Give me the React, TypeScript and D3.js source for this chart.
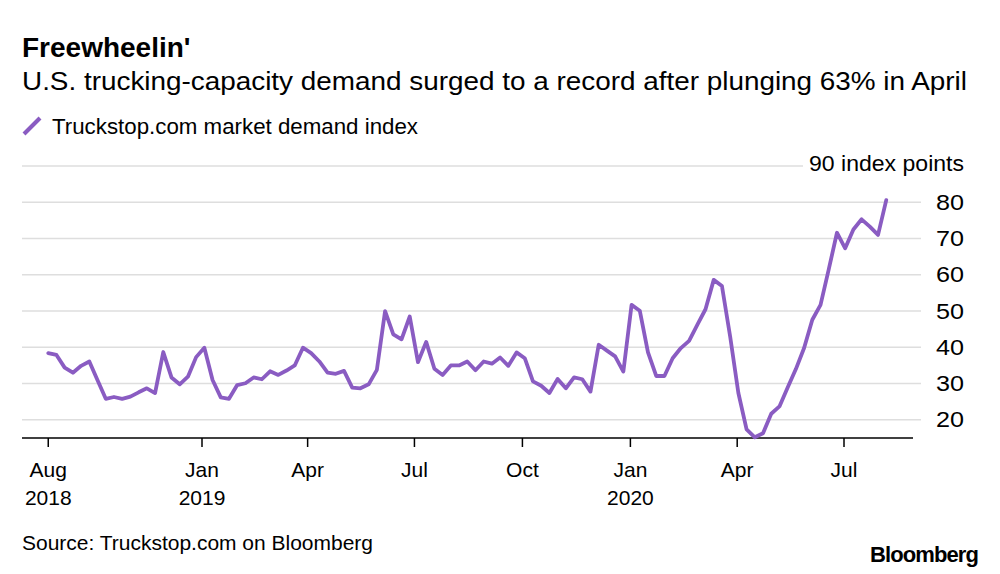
import React from "react";
import * as d3 from "d3";

// ---- data (weekly, Truckstop.com market demand index) ----
const startDate = "2018-08-23";
const demandValues: number[] = [
  38.4, 37.9, 34.4, 33.0, 34.9, 36.1, 30.9, 25.8, 26.3, 25.8,
  26.4, 27.6, 28.7, 27.4, 38.7, 31.7, 29.8, 31.9, 37.3, 39.9,
  31.0, 26.2, 25.8, 29.6, 30.1, 31.7, 31.2, 33.4, 32.4, 33.6,
  35.0, 39.9, 38.4, 36.1, 33.0, 32.7, 33.5, 28.9, 28.7, 29.8,
  33.8, 50.0, 43.6, 42.2, 48.5, 35.9, 41.5, 34.1, 32.4, 35.0,
  35.0, 36.1, 33.7, 36.1, 35.5, 37.2, 34.9, 38.6, 37.0, 30.6,
  29.4, 27.4, 31.3, 28.7, 31.7, 31.2, 27.8, 40.7, 39.1, 37.5,
  33.3, 51.7, 50.1, 38.6, 32.1, 32.1, 37.0, 39.8, 41.8, 46.2,
  50.5, 58.6, 56.9, 43.0, 27.4, 17.4, 15.2, 16.3, 21.7, 23.7,
  28.9, 34.0, 39.8, 47.6, 51.7, 61.5, 71.6, 67.3, 72.5, 75.3,
  73.3, 71.0, 80.6,
];
const yTicks = [20, 30, 40, 50, 60, 70, 80];
const xTickDates = ["2018-08-23", "2019-01-01", "2019-04-01", "2019-07-01", "2019-10-01", "2020-01-01", "2020-04-01", "2020-07-01"];
const xTickMonths = ["Aug", "Jan", "Apr", "Jul", "Oct", "Jan", "Apr", "Jul"];
const xTickYears = ["2018", "2019", "", "", "", "2020", "", ""];

const title = "Freewheelin'";
const subtitle = "U.S. trucking-capacity demand surged to a record after plunging 63% in April";
const legendLabel = "Truckstop.com market demand index";
const unitLabel = "90 index points";
const sourceText = "Source: Truckstop.com on Bloomberg";

const FONT = "'Liberation Sans', Arial, Helvetica, sans-serif";
const PURPLE = "#8a5cc2";
const GRID = "#dedede";

const parse = d3.timeParse("%Y-%m-%d");

export default function App() {
  const start = parse(startDate)!;
  const data = demandValues.map((v, i) => ({ date: d3.timeDay.offset(start, i * 7), value: v }));

  const x = d3
    .scaleTime()
    .domain([parse("2019-01-01")!, parse("2020-07-01")!])
    .range([202, 844]);
  const y = d3.scaleLinear().domain([15, 90]).range([438, 166]);

  const line = d3
    .line<{ date: Date; value: number }>()
    .x((d) => x(d.date))
    .y((d) => y(d.value));

  const gridLeft = 22;
  const gridRight = 921;
  const axisRight = 913;

  return (
    <svg
      width={1000}
      height={574}
      style={{ position: "absolute", left: 0, top: 0, background: "#fff" }}
      fontFamily={FONT}
    >
      <rect x={0} y={0} width={1000} height={574} fill="#fff" />
      <text x={22} y={57} fontSize={28} fontWeight="bold" fill="#000">
        {title}
      </text>
      <text x={22} y={90} fontSize={26.5} fill="#000" textLength={945} lengthAdjust="spacingAndGlyphs">
        {subtitle}
      </text>
      {/* legend */}
      <line x1={24} y1={134} x2={40} y2={118} stroke={PURPLE} strokeWidth={4} />
      <text x={52} y={134} fontSize={21.5} fill="#000" textLength={366} lengthAdjust="spacingAndGlyphs">
        {legendLabel}
      </text>

      {/* grid lines */}
      <line x1={gridLeft} x2={803} y1={y(90)} y2={y(90)} stroke={GRID} strokeWidth={1.5} />
      {yTicks.map((t) => (
        <line key={t} x1={gridLeft} x2={gridRight} y1={y(t)} y2={y(t)} stroke={GRID} strokeWidth={1.5} />
      ))}
      <text x={964} y={y(90) + 5} fontSize={21.5} textAnchor="end" fill="#000" textLength={155} lengthAdjust="spacingAndGlyphs">
        {unitLabel}
      </text>
      {yTicks.map((t) => (
        <text key={"l" + t} x={964} y={y(t) + 7.5} fontSize={21.5} textAnchor="end" fill="#000" textLength={28} lengthAdjust="spacingAndGlyphs">
          {t}
        </text>
      ))}

      {/* x axis */}
      <line x1={gridLeft} x2={axisRight} y1={y(15)} y2={y(15)} stroke="#000" strokeWidth={1.5} />
      {xTickDates.map((ds, i) => {
        const xx = x(parse(ds)!);
        return (
          <g key={ds}>
            <line x1={xx} x2={xx} y1={y(15)} y2={y(15) + 9} stroke="#000" strokeWidth={1.5} />
            <text x={xx} y={477} fontSize={21} textAnchor="middle" fill="#000">
              {xTickMonths[i]}
            </text>
            {xTickYears[i] && (
              <text x={xx} y={505} fontSize={21} textAnchor="middle" fill="#000">
                {xTickYears[i]}
              </text>
            )}
          </g>
        );
      })}

      {/* series */}
      <path d={line(data) || ""} fill="none" stroke={PURPLE} strokeWidth={3.8} strokeLinejoin="round" strokeLinecap="round" />

      {/* footer */}
      <text x={22} y={550} fontSize={20.5} fill="#000" textLength={351} lengthAdjust="spacingAndGlyphs">
        {sourceText}
      </text>
      <text x={978} y={562} fontSize={22} fontWeight="bold" textAnchor="end" fill="#000" letterSpacing={-0.9}>
        Bloomberg
      </text>
    </svg>
  );
}
